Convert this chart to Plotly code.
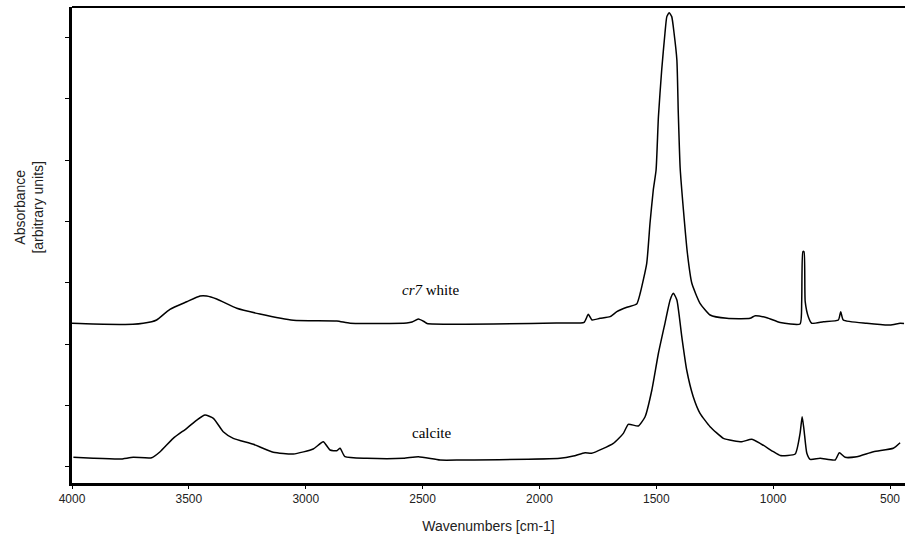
import plotly.graph_objects as go

# cr7 white spectrum (wavenumber, absorbance in arbitrary units)
cr7_wn = [4000, 3910, 3739, 3659, 3638, 3581, 3509, 3452, 3424, 3381, 3295, 3196, 3053, 2867,
          2810, 2568, 2545, 2518, 2494, 2481, 1912, 1809, 1791, 1775, 1741, 1698, 1669, 1626,
          1584, 1569, 1541, 1527, 1513, 1501, 1491, 1477, 1463, 1455, 1445, 1434, 1424, 1412,
          1406, 1398, 1384, 1367, 1348, 1313, 1270, 1198, 1099, 1077, 1027, 970, 885, 878,
          873, 868, 863, 849, 835, 785, 721, 711, 700, 600, 500, 457, 440]
cr7_abs = [2.341, 2.330, 2.325, 2.367, 2.395, 2.569, 2.693, 2.786, 2.786, 2.737, 2.586, 2.493,
           2.390, 2.378, 2.341, 2.346, 2.362, 2.411, 2.370, 2.338, 2.346, 2.357, 2.488, 2.395,
           2.422, 2.449, 2.530, 2.602, 2.656, 2.830, 3.320, 3.972, 4.515, 4.842, 5.711, 6.473,
           7.072, 7.343, 7.408, 7.343, 7.072, 6.636, 5.772, 4.874, 4.189, 3.483, 2.993, 2.667,
           2.476, 2.422, 2.422, 2.465, 2.432, 2.354, 2.330, 2.693, 3.509, 3.509, 2.693, 2.439,
           2.341, 2.367, 2.395, 2.530, 2.395, 2.341, 2.313, 2.341, 2.338]

# calcite reference spectrum
cal_wn = [3994, 3909, 3795, 3738, 3659, 3623, 3567, 3509, 3466, 3431, 3395, 3353, 3310, 3224,
          3139, 3053, 2968, 2925, 2896, 2867, 2853, 2832, 2739, 2582, 2518, 2425, 2340, 1912,
          1855, 1805, 1777, 1684, 1641, 1620, 1577, 1548, 1519, 1491, 1463, 1441, 1427, 1412,
          1391, 1370, 1342, 1313, 1270, 1213, 1170, 1134, 1092, 1056, 999, 970, 906, 885, 876,
          868, 856, 842, 799, 735, 717, 692, 642, 571, 486, 457]
cal_abs = [0.155, 0.139, 0.127, 0.155, 0.148, 0.246, 0.465, 0.628, 0.763, 0.845, 0.791, 0.573,
           0.465, 0.367, 0.237, 0.209, 0.290, 0.409, 0.274, 0.263, 0.302, 0.165, 0.139, 0.139,
           0.165, 0.111, 0.111, 0.139, 0.176, 0.230, 0.220, 0.383, 0.546, 0.693, 0.666, 0.817,
           1.253, 1.852, 2.341, 2.721, 2.830, 2.721, 2.122, 1.579, 1.144, 0.873, 0.654, 0.465,
           0.426, 0.409, 0.449, 0.383, 0.246, 0.184, 0.209, 0.546, 0.817, 0.600, 0.220, 0.122,
           0.139, 0.111, 0.230, 0.155, 0.165, 0.246, 0.302, 0.393]

x_ticks = [4000, 3500, 3000, 2500, 2000, 1500, 1000, 500]
y_ticks = [0, 1, 2, 3, 4, 5, 6, 7]

labels = ["<i>cr7</i> white", "calcite"]
label_x = [2468, 2460]
label_y = [2.884, 0.551]

fig = go.Figure()
fig.add_trace(go.Scatter(x=cr7_wn, y=cr7_abs, mode="lines",
                         line=dict(color="black", width=1.5, shape="spline", smoothing=0.5),
                         showlegend=False, hoverinfo="skip"))
fig.add_trace(go.Scatter(x=cal_wn, y=cal_abs, mode="lines",
                         line=dict(color="black", width=1.5, shape="spline", smoothing=0.5),
                         showlegend=False, hoverinfo="skip"))

for t, xx, yy in zip(labels, label_x, label_y):
    fig.add_annotation(x=xx, y=yy, text=t, showarrow=False,
                       font=dict(family="Liberation Serif, Times New Roman, serif",
                                 size=15, color="black"))

fig.add_annotation(xref="paper", yref="paper", x=-0.052, y=0.58, text="Absorbance<br>[arbitrary units]",
                   textangle=-90, showarrow=False, xanchor="center", yanchor="middle",
                   font=dict(family="Liberation Sans, Arial, sans-serif", size=14, color="#222"))

fig.add_shape(type="line", xref="paper", yref="paper", x0=0, x1=1, y0=1, y1=1,
              line=dict(color="black", width=2))

fig.update_layout(
    width=905, height=543,
    margin=dict(l=72, r=0, t=7, b=60),
    paper_bgcolor="white", plot_bgcolor="white",
    font=dict(family="Liberation Sans, Arial, sans-serif", size=12, color="#222"),
    xaxis=dict(range=[4000, 436], tickvals=x_ticks, ticktext=[str(v) for v in x_ticks],
               showgrid=False, zeroline=False, showline=True, linecolor="black", linewidth=3,
               ticks="outside", ticklen=3, tickcolor="black", tickwidth=1,
               title=dict(text="Wavenumbers [cm-1]", standoff=16,
                          font=dict(family="Liberation Sans, Arial, sans-serif", size=14, color="#222")),
               tickfont=dict(size=12, color="#222")),
    yaxis=dict(range=[-0.264, 7.5], tickvals=y_ticks, showticklabels=False,
               showgrid=False, zeroline=False, showline=True, linecolor="black", linewidth=3,
               ticks="outside", ticklen=4, tickcolor="black", tickwidth=1),
)

fig.write_html("out.html", config={"displayModeBar": False},
               post_script="document.body.style.margin='0';document.body.style.overflow='hidden';")
